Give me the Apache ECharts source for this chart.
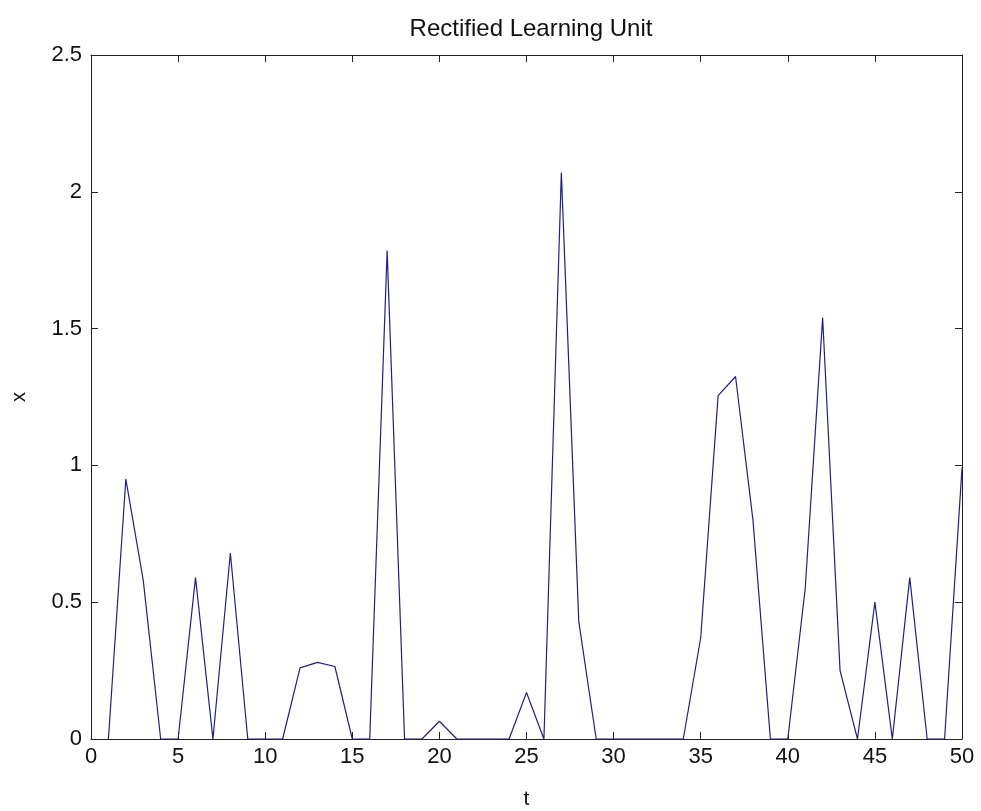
<!DOCTYPE html>
<html>
<head>
<meta charset="utf-8">
<script src="https://cdn.jsdelivr.net/npm/echarts@6/dist/echarts.min.js"></script>
<style>html,body{margin:0;padding:0;background:#fff}#c{width:981px;height:811px}</style>
</head>
<body>
<div id="c"></div>
<script>
var tValues = [1,2,3,4,5,6,7,8,9,10,11,12,13,14,15,16,17,18,19,20,21,22,23,24,25,26,27,28,29,30,31,32,33,34,35,36,37,38,39,40,41,42,43,44,45,46,47,48,49,50];
var xValues = [0,0.95,0.58,0,0,0.59,0,0.68,0,0,0,0.26,0.28,0.265,0,0,1.785,0,0,0.065,0,0,0,0,0.17,0,2.07,0.43,0,0,0,0,0,0,0.37,1.255,1.325,0.8,0,0,0.55,1.54,0.25,0,0.5,0,0.59,0,0,0.99];
var xTicks = [0,5,10,15,20,25,30,35,40,45,50];
var yTicks = [0,0.5,1,1.5,2,2.5];
var titleText = 'Rectified Learning Unit';
var xName = 't';
var yName = 'x';

var pts = tValues.map(function(t,i){return [t, xValues[i]];});
var font = 'Liberation Sans, Arial, sans-serif';
var axisCommon = {
  axisLine:{show:true,onZero:false,lineStyle:{color:'#222',width:1}},
  axisTick:{show:true,inside:true,length:7,lineStyle:{color:'#222',width:1}},
  splitLine:{show:false}
};
var chart = echarts.init(document.getElementById('c'));
chart.setOption({
  animation:false,
  backgroundColor:'#fff',
  title:{text:titleText,left:526,textAlign:'center',top:12,textStyle:{fontFamily:font,fontSize:24,fontWeight:'normal',color:'#111'}},
  grid:{left:91,right:19,top:55,bottom:72,containLabel:false,outerBoundsMode:'none'},
  xAxis:[
    Object.assign({type:'value',position:'bottom',min:xTicks[0],max:xTicks[xTicks.length-1],interval:5,
      name:xName,nameLocation:'middle',nameGap:50,nameTextStyle:{fontFamily:font,fontSize:21,color:'#111'},
      axisLabel:{fontFamily:font,fontSize:22,color:'#111',margin:7}},axisCommon),
    Object.assign({type:'value',position:'top',min:xTicks[0],max:xTicks[xTicks.length-1],interval:5,axisLabel:{show:false}},axisCommon)
  ],
  yAxis:[
    Object.assign({type:'value',position:'left',min:yTicks[0],max:yTicks[yTicks.length-1],interval:0.5,
      name:yName,nameLocation:'middle',nameGap:62,nameTextStyle:{fontFamily:font,fontSize:20,color:'#111'},
      axisLabel:{fontFamily:font,fontSize:22,color:'#111',margin:9}},axisCommon),
    Object.assign({type:'value',position:'right',min:yTicks[0],max:yTicks[yTicks.length-1],interval:0.5,axisLabel:{show:false}},axisCommon)
  ],
  series:[{type:'line',data:pts,symbol:'none',lineStyle:{color:'#1f1f86',width:1.2},xAxisIndex:0,yAxisIndex:0}]
});
</script>
</body>
</html>
